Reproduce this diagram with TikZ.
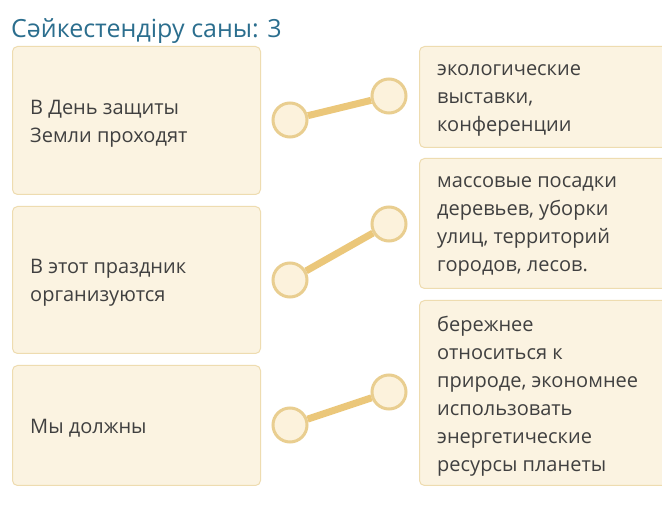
\documentclass[tikz,border=0pt]{standalone}
\usepackage{fontspec}
\setmainfont{Open Sans}
\definecolor{boxfill}{HTML}{FBF3E1}
\definecolor{boxline}{HTML}{EEDCB0}
\definecolor{cfill}{HTML}{FCF2DC}
\definecolor{cline}{HTML}{E9CE90}
\definecolor{conn}{HTML}{EBC77A}
\definecolor{titlec}{HTML}{2B6E8E}
\definecolor{txt}{HTML}{404040}
\tikzset{
  card/.style={draw=boxline, line width=1pt, fill=boxfill, rounded corners=5pt,
    anchor=north west, inner sep=0pt},
  cardtext/.style={anchor=west, inner sep=0pt, align=left,
    text=txt, font=\fontsize{20}{28}\selectfont},
  dot/.style={circle, draw=cline, line width=3pt, fill=cfill, minimum size=34pt, inner sep=0pt},
  link/.style={draw=conn, line width=7pt}
}
\begin{document}
\begin{tikzpicture}[x=1pt,y=-1pt]
\useasboundingbox[fill=white] (0,0) rectangle (662,526);
\node[anchor=base west, text=titlec, font=\fontsize{25}{28}\selectfont, inner sep=0pt] (title) at (11,38) {Сәйкестендіру саны: 3};
% left cards
\node[card, minimum width=248pt, minimum height=148pt] (l1) at (12,46) {};
\node[card, minimum width=248pt, minimum height=147pt] (l2) at (12,206) {};
\node[card, minimum width=248pt, minimum height=120pt] (l3) at (12,365) {};
% right cards
\node[card, minimum width=252pt, minimum height=101pt] (r1) at (419,46) {};
\node[card, minimum width=252pt, minimum height=130pt] (r2) at (419,158) {};
\node[card, minimum width=252pt, minimum height=185pt] (r3) at (419,300) {};
% card texts
\node[cardtext] (tl1) at ([shift={(18,3)}]l1.west) {В День защиты\\Земли проходят};
\node[cardtext] (tl2) at ([shift={(18,3)}]l2.west) {В этот праздник\\организуются};
\node[cardtext] (tl3) at ([shift={(18,3)}]l3.west) {Мы должны};
\node[cardtext] (tr1) at ([shift={(18,3)}]r1.west) {экологические\\выставки,\\конференции};
\node[cardtext] (tr2) at ([shift={(18,3)}]r2.west) {массовые посадки\\деревьев, уборки\\улиц, территорий\\городов, лесов.};
\node[cardtext] (tr3) at ([shift={(18,3)}]r3.west) {бережнее\\относиться к\\природе, экономнее\\использовать\\энергетические\\ресурсы планеты};
% dots
\node[dot] (a1) at (290,120) {};
\node[dot] (a2) at (290,280) {};
\node[dot] (a3) at (290,425) {};
\node[dot] (b1) at (389,96) {};
\node[dot] (b2) at (389,224) {};
\node[dot] (b3) at (389,392) {};
% links
\draw[link] (a1) -- (b1);
\draw[link] (a2) -- (b2);
\draw[link] (a3) -- (b3);
\end{tikzpicture}
\end{document}
